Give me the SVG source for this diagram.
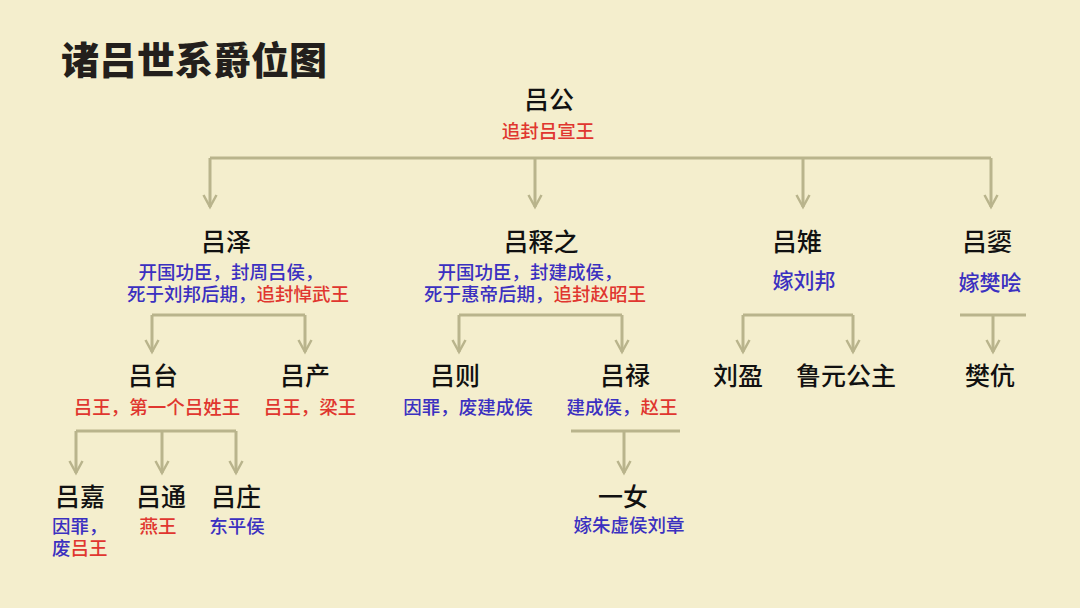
<svg xmlns="http://www.w3.org/2000/svg" width="1080" height="608" viewBox="0 0 1080 608">
<style>
.title{font-family:"Noto Sans CJK SC",sans-serif;font-size:38px;font-weight:900;fill:#231f1c}
.name{font-family:"Noto Sans CJK SC",sans-serif;font-size:25px;font-weight:500;fill:#111;text-anchor:middle;dominant-baseline:central}
.sub{font-family:"Noto Sans CJK SC",sans-serif;font-size:18.5px;font-weight:500;text-anchor:middle;dominant-baseline:central}
.b{fill:#3b30c0}
.r{fill:#e0362f}
.ln{fill:none;stroke:#b9b48c;stroke-width:3}
</style>
<defs>
<marker id="ah" markerUnits="userSpaceOnUse" markerWidth="16" markerHeight="16" refX="13" refY="8" viewBox="0 0 16 16" orient="auto">
<polyline points="1,1.5 13,8 1,14.5" fill="none" stroke="#b9b48c" stroke-width="2.5"/>
</marker>
</defs>
<rect width="1080" height="608" fill="#f4eecd"/>
<text class="title" x="61" y="74">诸吕世系爵位图</text>

<g id="connectors">
<path class="ln" d="M210,158 H991"/>
<path class="ln" d="M210,158 V207" marker-end="url(#ah)"/>
<path class="ln" d="M535,158 V207" marker-end="url(#ah)"/>
<path class="ln" d="M803,158 V207" marker-end="url(#ah)"/>
<path class="ln" d="M991,158 V207" marker-end="url(#ah)"/>

<path class="ln" d="M152,315 H305"/>
<path class="ln" d="M152,315 V352" marker-end="url(#ah)"/>
<path class="ln" d="M305,315 V352" marker-end="url(#ah)"/>

<path class="ln" d="M459,315 H622"/>
<path class="ln" d="M459,315 V352" marker-end="url(#ah)"/>
<path class="ln" d="M622,315 V352" marker-end="url(#ah)"/>

<path class="ln" d="M743,315 H853"/>
<path class="ln" d="M743,315 V352" marker-end="url(#ah)"/>
<path class="ln" d="M853,315 V352" marker-end="url(#ah)"/>

<path class="ln" d="M960,315 H1026"/>
<path class="ln" d="M993,315 V352" marker-end="url(#ah)"/>

<path class="ln" d="M76,431 H236"/>
<path class="ln" d="M76,431 V473" marker-end="url(#ah)"/>
<path class="ln" d="M162,431 V473" marker-end="url(#ah)"/>
<path class="ln" d="M236,431 V473" marker-end="url(#ah)"/>

<path class="ln" d="M571,431 H680"/>
<path class="ln" d="M624,431 V473" marker-end="url(#ah)"/>
</g>

<g id="lvgong">
<text class="name" x="549" y="98">吕公</text>
<text class="sub r" x="548" y="130">追封吕宣王</text>
</g>

<g id="lvze">
<text class="name" x="226" y="240">吕泽</text>
<text class="sub"><tspan class="b" x="231" y="271">开国功臣，封周吕侯，</tspan><tspan x="238" y="293"><tspan class="b">死于刘邦后期，</tspan><tspan class="r">追封悼武王</tspan></tspan></text>
</g>

<g id="lvshizhi">
<text class="name" x="541" y="240">吕释之</text>
<text class="sub"><tspan class="b" x="530" y="271">开国功臣，封建成侯，</tspan><tspan x="535" y="293"><tspan class="b">死于惠帝后期，</tspan><tspan class="r">追封赵昭王</tspan></tspan></text>
</g>

<g id="lvzhi">
<text class="name" x="797" y="240">吕雉</text>
<text class="sub b" x="804" y="279" style="font-size:21px">嫁刘邦</text>
</g>

<g id="lvxu">
<text class="name" x="987" y="240">吕媭</text>
<text class="sub b" x="990" y="281" style="font-size:21px">嫁樊哙</text>
</g>

<g id="lvtai">
<text class="name" x="153" y="374">吕台</text>
<text class="sub r" x="157" y="406">吕王，第一个吕姓王</text>
</g>

<g id="lvchan">
<text class="name" x="305" y="374">吕产</text>
<text class="sub r" x="310" y="406">吕王，梁王</text>
</g>

<g id="lvze2">
<text class="name" x="455" y="374">吕则</text>
<text class="sub b" x="468" y="406">因罪，废建成侯</text>
</g>

<g id="lvlu">
<text class="name" x="625" y="374">吕禄</text>
<text class="sub" x="622" y="406"><tspan class="b">建成侯，</tspan><tspan class="r">赵王</tspan></text>
</g>

<g id="liuying">
<text class="name" x="738" y="374">刘盈</text>
</g>

<g id="luyuan">
<text class="name" x="846" y="374">鲁元公主</text>
</g>

<g id="fankang">
<text class="name" x="990" y="374">樊伉</text>
</g>

<g id="lvjia">
<text class="name" x="80" y="495">吕嘉</text>
<text class="sub" style="text-anchor:start"><tspan class="b" x="52" y="525">因罪，</tspan><tspan x="52" y="547"><tspan class="b">废</tspan><tspan class="r">吕王</tspan></tspan></text>
</g>

<g id="lvtong">
<text class="name" x="161" y="495">吕通</text>
<text class="sub r" x="158" y="525">燕王</text>
</g>

<g id="lvzhuang">
<text class="name" x="236" y="495">吕庄</text>
<text class="sub b" x="237" y="525">东平侯</text>
</g>

<g id="yinv">
<text class="name" x="623" y="495">一女</text>
<text class="sub b" x="629" y="524">嫁朱虚侯刘章</text>
</g>
</svg>
